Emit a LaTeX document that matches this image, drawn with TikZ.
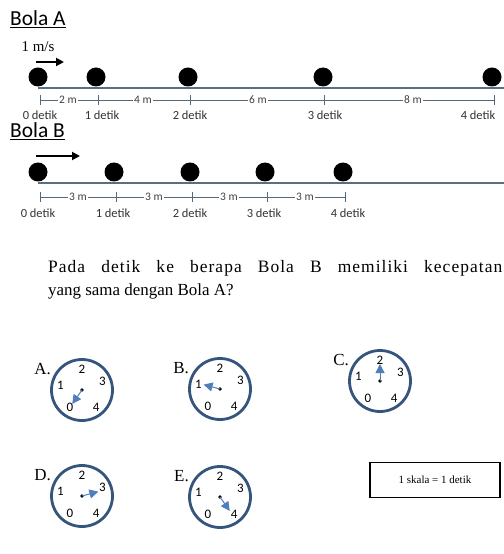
\documentclass[tikz,border=0pt]{standalone}
\usepackage{fontspec}
\setmainfont{Liberation Serif}
\newfontfamily\calib{Carlito}
\newfontfamily\spacedserif[LetterSpace=6]{Liberation Serif}
\usetikzlibrary{arrows.meta}
\definecolor{axisgray}{HTML}{5B6F82}
\definecolor{dimblue}{HTML}{50697F}
\definecolor{ringblue}{HTML}{36557D}
\definecolor{handblue}{HTML}{4F7EBB}
\begin{document}
\begin{tikzpicture}[x=1bp,y=-1bp,
  ball/.style={circle,fill=black,inner sep=0pt,minimum size=19bp},
  title/.style={font=\calib\fontsize{21.5}{21.5}\selectfont,anchor=west,inner sep=0pt},
  dimlab/.style={font=\calib\fontsize{11.5}{11.5}\selectfont,fill=white,inner sep=1.5bp,text=black!75},
  timelab/.style={font=\calib\fontsize{12.5}{12.5}\selectfont,inner sep=0pt,text=black!80},
  axis/.style={draw=axisgray,line width=1.6bp},
  dimline/.style={draw=dimblue,line width=0.7bp},
  ring/.style={draw=ringblue,line width=2.8bp,circle,minimum size=61bp,inner sep=0pt},
  num/.style={font=\calib\fontsize{13}{13}\selectfont,inner sep=0pt},
  hand/.style={draw=handblue,line width=1bp,-{Triangle[length=9bp,width=9bp]}},
  optlab/.style={font=\fontsize{17}{17}\selectfont,inner sep=0pt,anchor=base east},
  motion/.style={line width=1.8bp,-{Triangle[length=8bp,width=8bp]}}
]
\useasboundingbox (0,0) rectangle (504,554);

% ---------------- Bola A ----------------
\node[title] (tA) at (10,19) {\underline{Bola A}};
\node[font=\fontsize{15}{15}\selectfont,inner sep=0pt] (vA) at (38,47) {1 m/s};
\coordinate (arA1) at (36,62);
\coordinate (arA2) at (64,62);
\draw[motion] (arA1) -- (arA2);
\foreach \i/\x in {0/38,1/96,2/188,3/323,4/492}{
  \node[ball] (bA\i) at (\x,77) {};
}
\coordinate (axA0) at (38,88);
\coordinate (axA1) at (506,88);
\draw[axis] (axA0) -- (axA1);
\foreach \i/\x in {0/40,1/98,2/190,3/324,4/494}{
  \coordinate (kA\i) at (\x,100);
  \draw[dimline] (\x,95) -- (\x,105);
}
\draw[dimline] (kA0) -- (kA4);
\node[dimlab] (dA1) at (68,100) {2 m};
\node[dimlab] (dA2) at (143,100) {4 m};
\node[dimlab] (dA3) at (258,100) {6 m};
\node[dimlab] (dA4) at (413,100) {8 m};
\foreach \i/\x in {0/40,1/102,2/190,3/325,4/478}{
  \node[timelab] (sA\i) at (\x,115) {\i{} detik};
}

% ---------------- Bola B ----------------
\node[title] (tB) at (10,131) {\underline{Bola B}};
\coordinate (arB1) at (36,156);
\coordinate (arB2) at (80,156);
\draw[motion] (arB1) -- (arB2);
\foreach \i/\x in {0/38,1/114,2/190,3/265,4/343}{
  \node[ball] (bB\i) at (\x,172) {};
}
\coordinate (axB0) at (38,183);
\coordinate (axB1) at (506,183);
\draw[axis] (axB0) -- (axB1);
\foreach \i/\x in {0/40,1/116,2/192,3/267,4/345}{
  \coordinate (kB\i) at (\x,197);
  \draw[dimline] (\x,192) -- (\x,202);
}
\draw[dimline] (kB0) -- (kB4);
\node[dimlab] (dB1) at (78,197) {3 m};
\node[dimlab] (dB2) at (154,197) {3 m};
\node[dimlab] (dB3) at (229,197) {3 m};
\node[dimlab] (dB4) at (305,197) {3 m};
\foreach \i/\x in {0/38,1/113,2/190,3/264,4/348}{
  \node[timelab] (sB\i) at (\x,213) {\i{} detik};
}

% ---------------- Question ----------------
\node[anchor=base west,inner sep=0pt,font=\spacedserif\fontsize{17.5}{17.5}\selectfont] (q1) at (48,272)
  {\makebox[454bp][s]{Pada detik ke berapa Bola B memiliki kecepatan}};
\node[anchor=base west,inner sep=0pt,font=\fontsize{17}{17}\selectfont] (q2) at (48,295)
  {yang sama dengan Bola A?};

% ---------------- Clocks ----------------
\foreach \n/\cx/\cy/\ang in {A/82/390/-125,B/220/389/165,C/380/381/90,D/82/496/15,E/220/497/-55}{
  \node[ring] (c\n) at (\cx,\cy) {};
  \node[num] at ([shift={(90:21bp)}]c\n.center) {2};
  \node[num] at ([shift={(22:22bp)}]c\n.center) {3};
  \node[num] at ([shift={(-50:22bp)}]c\n.center) {4};
  \node[num] at ([shift={(-125:21bp)}]c\n.center) {0};
  \node[num] at ([shift={(168:22bp)}]c\n.center) {1};
  \fill (c\n.center) circle (1.8bp);
  \coordinate (h\n) at ([shift={(\ang:17bp)}]c\n.center);
  \draw[hand] (c\n.center) -- (h\n);
  \node[optlab] (o\n) at ([shift={(-31bp,16bp)}]c\n.center) {\n.};
}

% ---------------- Legend ----------------
\node[draw=black,line width=1.2bp,minimum width=130bp,minimum height=35bp,
      font=\fontsize{11}{11}\selectfont] (leg) at (435,480) {1 skala = 1 detik};
\end{tikzpicture}
\end{document}
